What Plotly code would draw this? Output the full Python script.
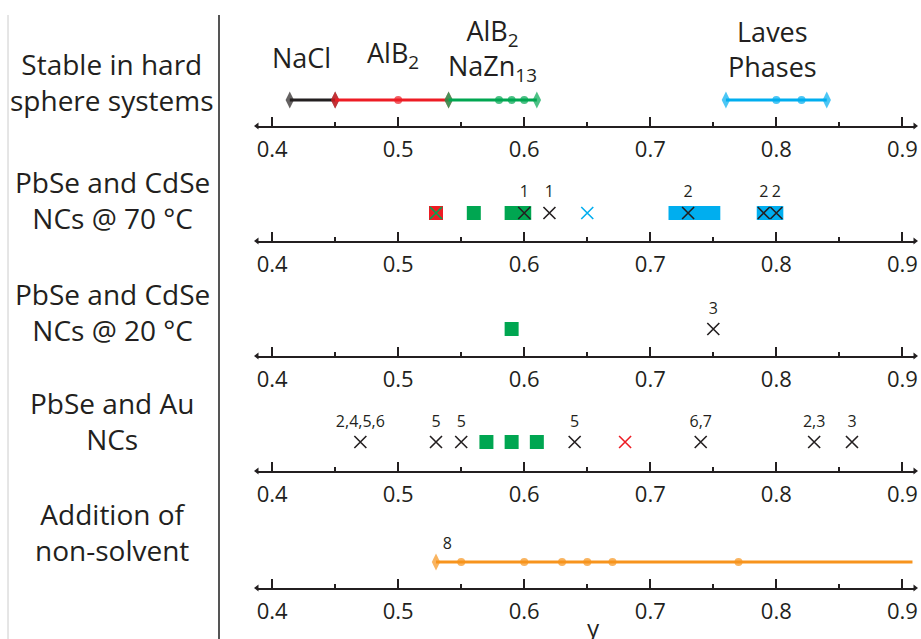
import plotly.graph_objects as go

# ---------------- data ----------------
tick_vals = [0.4, 0.5, 0.6, 0.7, 0.8, 0.9]
tick_text = ["0.4", "0.5", "0.6", "0.7", "0.8", "0.9"]
minor_vals = [0.45, 0.55, 0.65, 0.75, 0.85]
x_range = [0.388, 0.910]

row_labels = [
    "Stable in hard<br>sphere systems",
    "PbSe and CdSe<br>NCs @ 70 °C",
    "PbSe and CdSe<br>NCs @ 20 °C",
    "PbSe and Au<br>NCs",
    "Addition of<br>non-solvent",
]

# row 1: hard sphere stability ranges
nacl_x = [0.414, 0.45]
alb2_x = [0.45, 0.50, 0.54]
alb2_nazn13_x = [0.54, 0.58, 0.59, 0.60, 0.61]
laves_x = [0.76, 0.80, 0.82, 0.84]
phase_names = ["NaCl", "AlB<sub>2</sub>", "AlB<sub>2</sub><br>NaZn<sub>13</sub>", "Laves<br>Phases"]

# row 2: PbSe/CdSe @ 70 C
r70_red_sq = [0.53]
r70_green_sq = [0.56, 0.59, 0.60]
r70_blue_sq = [0.72, 0.73, 0.74, 0.75, 0.79, 0.80]
r70_green_x = [0.53]
r70_blue_x = [0.65]
r70_black_x = [0.60, 0.62, 0.73, 0.79, 0.80]
r70_black_lbl = ["1", "1", "2", "2", "2"]

# row 3: PbSe/CdSe @ 20 C
r20_green_sq = [0.59]
r20_black_x = [0.75]
r20_black_lbl = ["3"]

# row 4: PbSe/Au
au_green_sq = [0.57, 0.59, 0.61]
au_red_x = [0.68]
au_black_x = [0.47, 0.53, 0.55, 0.64, 0.74, 0.83, 0.86]
au_black_lbl = ["2,4,5,6", "5", "5", "5", "6,7", "2,3", "3"]

# row 5: non-solvent
ns_points = [0.53, 0.55, 0.60, 0.63, 0.65, 0.67, 0.77]
ns_end = 0.908
ns_label = "8"

x_title = "γ"

# ---------------- style / layout ----------------
INK = "#231f20"
RED = "#ed1c24"
GREEN = "#00a651"
BLUE = "#00aeef"
ORANGE = "#f7941d"
FONT = "Open Sans"

W, H = 921, 639
ML, MR, MT, MB = 257, 6, 0, 51
PH = H - MT - MB
PW = W - ML - MR


def py(p):
    return (H - MB - p) / PH


def px(p):
    return (p - ML) / PW


axis_px = [126, 241, 356, 471, 588]
row_h = [126, 100, 100, 100, 100]

fig = go.Figure()


def ax(i):
    return ("x" if i == 0 else f"x{i+1}"), ("y" if i == 0 else f"y{i+1}")


def add_squares(i, xs, color, yoff):
    xa, ya = ax(i)
    fig.add_trace(go.Scatter(x=xs, y=[yoff] * len(xs), mode="markers", xaxis=xa, yaxis=ya,
                             marker=dict(symbol="square", size=14, color=color, line=dict(width=0)),
                             hoverinfo="x", showlegend=False, cliponaxis=False))


def add_crosses(i, xs, color, yoff, labels=None, loff=None):
    xa, ya = ax(i)
    fig.add_trace(go.Scatter(x=xs, y=[yoff] * len(xs), mode="markers", xaxis=xa, yaxis=ya,
                             marker=dict(symbol="x-thin", size=12, color=color,
                                         line=dict(width=1.6, color=color)),
                             hoverinfo="x", showlegend=False, cliponaxis=False))
    if labels:
        fig.add_trace(go.Scatter(x=xs, y=[loff] * len(xs), mode="text", text=labels, xaxis=xa, yaxis=ya,
                                 textfont=dict(family=FONT, size=16, color=INK),
                                 hoverinfo="skip", showlegend=False, cliponaxis=False))


def add_range(i, xs, color, yoff, last_marker=True):
    xa, ya = ax(i)
    n = len(xs)
    sym = ["diamond-tall"] + ["circle"] * (n - 2) + ["diamond-tall"]
    size = [12] + [8] * (n - 2) + [12 if last_marker else 0]
    fig.add_trace(go.Scatter(x=xs, y=[yoff] * n, mode="lines+markers", xaxis=xa, yaxis=ya,
                             line=dict(color=color, width=3),
                             marker=dict(symbol=sym, size=size, color=color, line=dict(width=0)),
                             hoverinfo="x", showlegend=False, cliponaxis=False))


# row 1
add_range(0, nacl_x, INK, 26)
add_range(0, alb2_x, RED, 26)
add_range(0, alb2_nazn13_x, GREEN, 26)
add_range(0, laves_x, BLUE, 26)

# row 2
add_squares(1, r70_red_sq, RED, 28)
add_squares(1, r70_green_sq, GREEN, 28)
add_squares(1, r70_blue_sq, BLUE, 28)
add_crosses(1, r70_green_x, GREEN, 28)
add_crosses(1, r70_blue_x, BLUE, 28)
add_crosses(1, r70_black_x, INK, 28, r70_black_lbl, 48)

# row 3
add_squares(2, r20_green_sq, GREEN, 27)
add_crosses(2, r20_black_x, INK, 27, r20_black_lbl, 46)

# row 4
add_squares(3, au_green_sq, GREEN, 29)
add_crosses(3, au_red_x, RED, 29)
add_crosses(3, au_black_x, INK, 29, au_black_lbl, 48)

# row 5
add_range(4, ns_points + [ns_end], ORANGE, 26, last_marker=False)
fig.add_trace(go.Scatter(x=[(ns_points[0] + ns_points[1]) / 2 - 0.001], y=[43], mode="text", text=[ns_label],
                         xaxis="x5", yaxis="y5", textfont=dict(family=FONT, size=16, color=INK),
                         hoverinfo="skip", showlegend=False, cliponaxis=False))

# axis end arrows
for i in range(5):
    xa, ya = ax(i)
    fig.add_trace(go.Scatter(x=x_range, y=[0, 0], mode="markers", xaxis=xa, yaxis=ya,
                             marker=dict(symbol=["triangle-left", "triangle-right"], size=6, color=INK),
                             hoverinfo="skip", showlegend=False, cliponaxis=False))

layout = dict(
    width=W, height=H,
    margin=dict(l=ML, r=MR, t=MT, b=MB),
    paper_bgcolor="white", plot_bgcolor="white",
    font=dict(family=FONT, color=INK),
    showlegend=False,
)
for i in range(5):
    xk = "xaxis" if i == 0 else f"xaxis{i+1}"
    yk = "yaxis" if i == 0 else f"yaxis{i+1}"
    xa, ya = ax(i)
    layout[xk] = dict(
        domain=[0, 1], anchor=ya, range=x_range,
        showline=True, linecolor=INK, linewidth=1.5,
        ticks="inside", ticklen=9, tickwidth=1.5, tickcolor=INK,
        tickvals=tick_vals, ticktext=tick_text, ticklabelstandoff=3,
        tickfont=dict(family=FONT, size=22, color=INK),
        minor=dict(ticks="inside", ticklen=4, tickwidth=1.5, tickcolor=INK, tickvals=minor_vals),
        showgrid=False, zeroline=False, fixedrange=True,
    )
    layout[yk] = dict(
        domain=[py(axis_px[i]), py(axis_px[i] - row_h[i])], anchor=xa,
        range=[0, row_h[i]], visible=False, fixedrange=True,
    )
fig.update_layout(**layout)

# phase labels in row 1
phase_pos = [(0.423, 69), (0.496, 72), (0.575, 76), (0.797, 77)]
for name, (xv, yv) in zip(phase_names, phase_pos):
    fig.add_annotation(x=xv, y=yv, xref="x", yref="y", text=name, showarrow=False,
                       xanchor="center", yanchor="middle",
                       font=dict(family=FONT, size=27, color=INK), align="center")

# row labels on the left
label_centers = [81.5, 199.5, 311.5, 421, 531.5]
for txt, c in zip(row_labels, label_centers):
    fig.add_annotation(x=px(112), y=py(c), xref="paper", yref="paper", text=txt, showarrow=False,
                       xanchor="center", yanchor="middle",
                       font=dict(family=FONT, size=28, color=INK), align="center")

# axis title
fig.add_annotation(x=0.655, y=py(627), xref="x5", yref="paper", text=x_title, showarrow=False,
                   xanchor="center", yanchor="middle",
                   font=dict(family=FONT, size=24, color=INK))

# separator lines
fig.add_shape(type="line", xref="paper", yref="paper", x0=px(219), x1=px(219), y0=py(15), y1=py(639),
              line=dict(color="#555555", width=2))
fig.add_shape(type="line", xref="paper", yref="paper", x0=px(8), x1=px(8), y0=py(15), y1=py(639),
              line=dict(color="#cccccc", width=1))

fig.write_html("out.html", config={"displayModeBar": False},
               post_script="document.body.style.margin='0';document.body.style.overflow='hidden';")
